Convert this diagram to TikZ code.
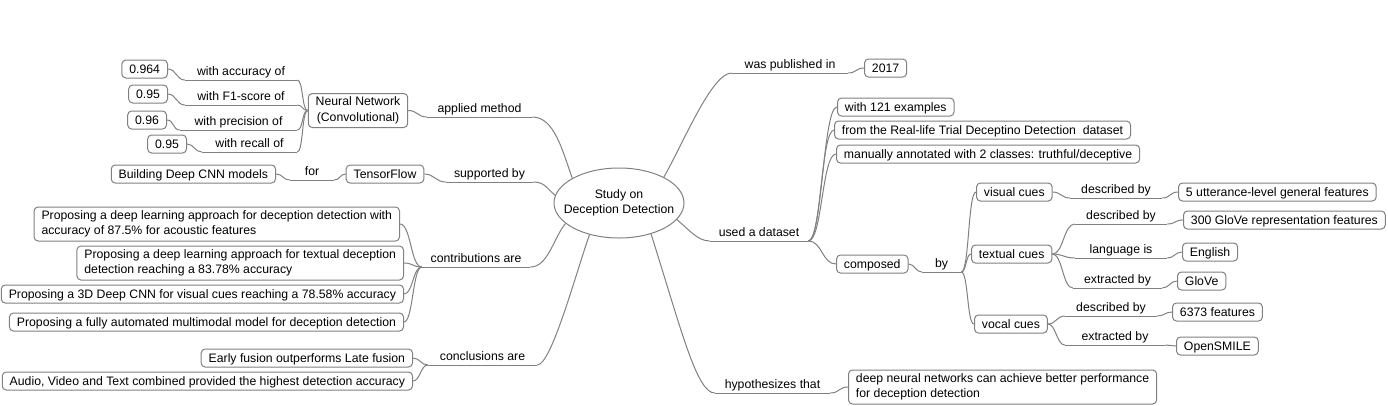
\documentclass[tikz,border=0pt]{standalone}
\usepackage{fontspec}
\setmainfont{Liberation Sans}
\usetikzlibrary{shapes.geometric}
\definecolor{lc}{RGB}{128,128,128}
\newcommand{\mmfont}{\fontsize{9.2}{11.6}\selectfont}
\tikzset{
  every node/.append style={font=\mmfont},
  box/.style={draw=lc, line width=0.75pt, rounded corners=3pt, fill=white, inner xsep=5.6pt, inner ysep=0pt, minimum height=13.5pt, text height=7.6pt, text depth=1.6pt},
  tbox/.style={draw=lc, line width=0.75pt, rounded corners=3pt, fill=white, inner xsep=5.6pt, inner ysep=0pt, minimum height=25.5pt, align=left},
  lab/.style={inner sep=0pt, text height=7pt, text depth=3pt, anchor=south, minimum width=#1*0.75pt},
  conn/.style={draw=lc, line width=0.75pt},
}
\begin{document}
\begin{tikzpicture}[x=0.75pt,y=-0.75pt]
\useasboundingbox (0,0) rectangle (1388,405);

% centre
\node[ellipse, draw=lc, line width=0.75pt, fill=white, minimum width=97.5pt, minimum height=52.5pt, inner sep=0pt] (c) at (619,203) {};
\node[align=center, inner sep=0pt] (ct) at (c.center) {Study on\\Deception Detection};

% left boxes
\node[box, anchor=east] (b1) at (168,69) {0.964};
\node[box, anchor=east] (b2) at (168,94) {0.95};
\node[box, anchor=east] (b3) at (167,120) {0.96};
\node[box, anchor=east] (b4) at (187,144) {0.95};
\node[tbox, align=center] (nn) at (358,110.5) {Neural Network\\(Convolutional)};
\node[box, anchor=east] (bdeep) at (276,174) {Building Deep CNN models};
\node[box] (tf) at (385,174) {TensorFlow};
\node[tbox, anchor=east] (c1) at (400,224) {Proposing a deep learning approach for deception detection with\\accuracy of 87.5\% for acoustic features};
\node[tbox, anchor=east] (c2) at (404,263) {Proposing a deep learning approach for textual deception\\detection reaching a 83.78\% accuracy};
\node[box, anchor=east] (c3) at (404,294) {Proposing a 3D Deep CNN for visual cues reaching a 78.58\% accuracy};
\node[box, anchor=east] (c4) at (404,322) {Proposing a fully automated multimodal model for deception detection};
\node[box, anchor=east] (e1) at (413,358) {Early fusion outperforms Late fusion};
\node[box, anchor=east] (e2) at (413,381) {Audio, Video and Text combined provided the highest detection accuracy};

% right boxes
\node[box, anchor=west] (y17) at (864,68) {2017};
\node[box, anchor=west] (d1) at (837,107) {with 121 examples};
\node[box, anchor=west] (d2) at (834,130) {from the Real-life Trial Deceptino Detection\ \ dataset};
\node[box, anchor=west] (d3) at (836,154) {manually annotated with 2 classes: truthful/deceptive};
\node[box, anchor=west] (comp) at (836,264) {composed};
\node[box, anchor=west] (vis) at (976,192) {visual cues};
\node[box, anchor=west] (txt) at (971,254) {textual cues};
\node[box, anchor=west] (voc) at (974,324) {vocal cues};
\node[box, anchor=west] (f1) at (1178,192) {5 utterance-level general features};
\node[box, anchor=west] (f2) at (1183,220) {300 GloVe representation features};
\node[box, anchor=west] (eng) at (1182,252) {English};
\node[box, anchor=west] (glove) at (1177,281) {GloVe};
\node[box, anchor=west] (f3) at (1172,312) {6373 features};
\node[box, anchor=west] (osm) at (1176,346) {OpenSMILE};
\node[tbox, anchor=west] (hyp) at (848,387) {deep neural networks can achieve better performance\\for deception detection};

% labels
\node[lab=112] (la1) at (241,80) {with accuracy of};
\node[lab=112] (la2) at (241,105) {with F1-score of};
\node[lab=117] (la3) at (238.5,130) {with precision of};
\node[lab=95] (la4) at (249.5,152) {with recall of};
\node[lab=105] (lam) at (479.5,117) {applied method};
\node[lab=44] (lfor) at (312,180) {for};
\node[lab=87] (lsup) at (489.5,182) {supported by};
\node[lab=108] (lcon) at (476,267) {contributions are};
\node[lab=109] (lcl) at (482.5,365) {conclusions are};
\node[lab=116] (lpub) at (790,73) {was published in};
\node[lab=98] (lds) at (759,241) {used a dataset};
\node[lab=39] (lby) at (941.5,272) {by};
\node[lab=92] (ld1) at (1116,198) {described by};
\node[lab=92] (ld2) at (1121,224) {described by};
\node[lab=92] (llang) at (1121,258) {language is};
\node[lab=89] (lex1) at (1117.5,288) {extracted by};
\node[lab=92] (ld3) at (1111,316) {described by};
\node[lab=100] (lex2) at (1115,345) {extracted by};
\node[lab=115] (lhyp) at (772.5,393) {hypothesizes that};

% underlines
\foreach \l in {la1,la2,la3,la4,lam,lfor,lsup,lcon,lcl,lpub,lds,lby,ld1,ld2,llang,lex1,ld3,lex2,lhyp}
  \draw[conn] (\l.south west) -- (\l.south east);

% left connectors
\draw[conn] (b1.east) .. controls +(8,0) and +(-8,0) .. (la1.south west);
\draw[conn] (b2.east) .. controls +(8,0) and +(-8,0) .. (la2.south west);
\draw[conn] (b3.east) .. controls +(7,0) and +(-7,0) .. (la3.south west);
\draw[conn] (b4.east) .. controls +(7,0) and +(-7,0) .. (la4.south west);
\foreach \l in {la1,la2,la3,la4}
  \draw[conn] (\l.south east) .. controls +(6,0) and +(-6,0) .. (nn.west);
\draw[conn] (nn.east) .. controls +(9,0) and +(-9,0) .. (lam.south west);
\draw[conn] (lam.south east) .. controls +(22,0) and +(-10,-28) .. (c.152);
\draw[conn] (bdeep.east) .. controls +(7,0) and +(-7,0) .. (lfor.south west);
\draw[conn] (lfor.south east) .. controls +(6,0) and +(-6,0) .. (tf.west);
\draw[conn] (tf.east) .. controls +(10,0) and +(-10,0) .. (lsup.south west);
\draw[conn] (lsup.south east) .. controls +(12,0) and +(-8,-6) .. (c.173);
\draw[conn] (c1.east) .. controls +(11,0) and +(-11,0) .. (lcon.south west);
\foreach \b in {c2,c3,c4}
  \draw[conn] (\b.east) .. controls +(9,0) and +(-9,0) .. (lcon.south west);
\draw[conn] (lcon.south east) .. controls +(18,0) and +(-12,14) .. (c.201);
\draw[conn] (e1.east) .. controls +(7,0) and +(-7,0) .. (lcl.south west);
\draw[conn] (e2.east) .. controls +(7,0) and +(-7,0) .. (lcl.south west);
\draw[conn] (lcl.south east) .. controls +(14,0) and +(-14,40) .. (c.227);

% right connectors
\draw[conn] (c.30) .. controls +(20,-35) and +(-20,0) .. (lpub.south west);
\draw[conn] (lpub.south east) .. controls +(8,0) and +(-8,0) .. (y17.west);
\draw[conn] (c.344) .. controls +(12,10) and +(-12,0) .. (lds.south west);
\draw[conn] (lds.south east) .. controls +(14,0) and +(-14,0) .. (d1.west);
\draw[conn] (lds.south east) .. controls +(13,0) and +(-13,0) .. (d2.west);
\draw[conn] (lds.south east) .. controls +(14,0) and +(-14,0) .. (d3.west);
\draw[conn] (lds.south east) .. controls +(14,0) and +(-14,0) .. (comp.west);
\draw[conn] (comp.east) .. controls +(6,0) and +(-6,0) .. (lby.south west);
\draw[conn] (lby.south east) .. controls +(8,0) and +(-8,0) .. (vis.west);
\draw[conn] (lby.south east) .. controls +(5,0) and +(-5,0) .. (txt.west);
\draw[conn] (lby.south east) .. controls +(7,0) and +(-7,0) .. (voc.west);
\draw[conn] (vis.east) .. controls +(8,0) and +(-8,0) .. (ld1.south west);
\draw[conn] (ld1.south east) .. controls +(8,0) and +(-8,0) .. (f1.west);
\draw[conn] (txt.east) .. controls +(11,0) and +(-11,0) .. (ld2.south west);
\draw[conn] (txt.east) .. controls +(11,0) and +(-11,0) .. (llang.south west);
\draw[conn] (txt.east) .. controls +(10,0) and +(-10,0) .. (lex1.south west);
\draw[conn] (ld2.south east) .. controls +(8,0) and +(-8,0) .. (f2.west);
\draw[conn] (llang.south east) .. controls +(7,0) and +(-7,0) .. (eng.west);
\draw[conn] (lex1.south east) .. controls +(7,0) and +(-7,0) .. (glove.west);
\draw[conn] (voc.east) .. controls +(8,0) and +(-8,0) .. (ld3.south west);
\draw[conn] (voc.east) .. controls +(8,0) and +(-8,0) .. (lex2.south west);
\draw[conn] (ld3.south east) .. controls +(7,0) and +(-7,0) .. (f3.west);
\draw[conn] (lex2.south east) .. controls +(5,0) and +(-5,0) .. (osm.west);
\draw[conn] (c.316) .. controls +(30,95) and +(-18,0) .. (lhyp.south west);
\draw[conn] (lhyp.south east) .. controls +(9,0) and +(-9,0) .. (hyp.west);
\end{tikzpicture}
\end{document}
